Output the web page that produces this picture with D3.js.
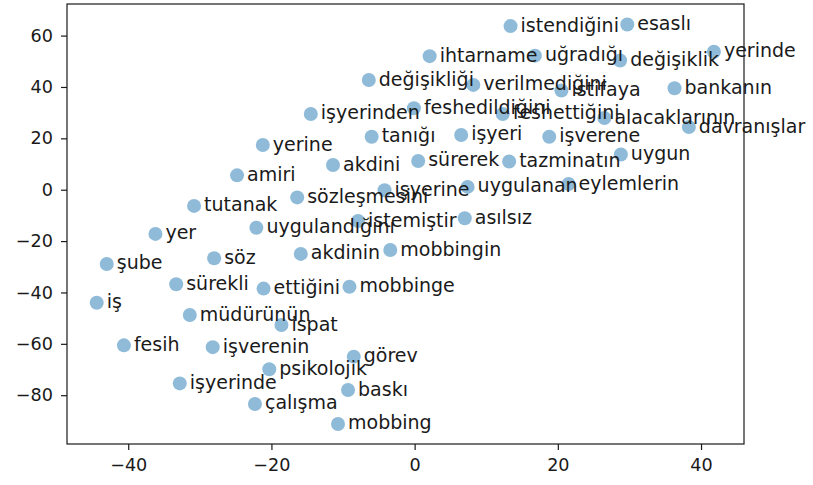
<!DOCTYPE html>
<html>
<head>
<meta charset="utf-8">
<script src="https://cdn.jsdelivr.net/npm/d3@7"></script>
<style>
  body { margin: 0; background: #fff; }
  text { font-family: "DejaVu Sans", sans-serif; }
</style>
</head>
<body>
<svg id="chart"></svg>
<script>
// kelimeler ve 2 boyutlu koordinatlar
var words = ["istendiğini","esaslı","ihtarname","uğradığı","değişiklik","yerinde",
  "değişikliği","verilmediğini","istifaya","bankanın","işyerinden","feshedildiğini",
  "feshettiğini","alacaklarının","davranışlar","tanığı","işyeri","işverene","yerine",
  "uygun","akdini","sürerek","tazminatın","amiri","işyerine","uygulanan","eylemlerin",
  "sözleşmesini","tutanak","istemiştir","asılsız","uygulandığını","yer","mobbingin",
  "söz","akdinin","şube","sürekli","ettiğini","mobbinge","iş","müdürünün","ispat",
  "fesih","işverenin","görev","psikolojik","işyerinde","baskı","çalışma","mobbing"];
var xs = [13.4,29.7,2.1,16.8,28.7,41.8,
  -6.4,8.2,20.5,36.3,-14.5,-0.1,
  12.3,26.5,38.3,-6.0,6.5,18.8,-21.2,
  28.8,-11.4,0.5,13.2,-24.8,-4.2,7.4,21.5,
  -16.4,-30.8,-7.9,7.0,-22.1,-36.2,-3.4,
  -28.0,-15.9,-43.0,-33.3,-21.1,-9.1,-44.4,-31.4,-18.6,
  -40.6,-28.2,-8.5,-20.3,-32.8,-9.3,-22.3,-10.7];
var ys = [63.7,64.3,52.0,52.2,50.3,53.7,
  42.7,40.8,38.6,39.5,29.5,31.7,
  29.5,27.9,24.4,20.6,21.3,20.6,17.4,
  13.7,9.6,11.2,11.0,5.6,-0.2,1.1,2.2,
  -3.0,-6.3,-12.2,-11.1,-14.8,-17.2,-23.5,
  -26.7,-25.0,-28.9,-36.8,-38.5,-37.8,-44.0,-48.8,-52.7,
  -60.6,-61.3,-65.0,-69.9,-75.4,-78.0,-83.4,-91.2];
var xTicks = [-40,-20,0,20,40];
var yTicks = [-80,-60,-40,-20,0,20,40,60];

var drawChart = function(){
    var width = 813, height = 485;
    var left = 67, right = 744, top = 4, bottom = 444;
    var svg = d3.select("#chart").attr("width", width).attr("height", height);

    var x = d3.scaleLinear().domain([-48.55, 46.0]).range([left, right]);
    var y = d3.scaleLinear().domain([-99.0, 72.3]).range([bottom, top]);

    var pts = d3.range(words.length).map(function(i){
        return {w: words[i], x: xs[i], y: ys[i]};
    });

    // 軸
    var xAxis = svg.append("g").attr("transform", "translate(0," + bottom + ")")
        .call(d3.axisBottom(x).tickValues(xTicks).tickSize(6).tickPadding(9).tickSizeOuter(0));
    var yAxis = svg.append("g").attr("transform", "translate(" + left + ",0)")
        .call(d3.axisLeft(y).tickValues(yTicks).tickSize(6).tickPadding(8).tickSizeOuter(0));
    [xAxis, yAxis].forEach(function(g){
        g.select(".domain").remove();
        g.selectAll("line").attr("stroke", "#1a1a1a").attr("stroke-width", 1.2);
        g.selectAll("text").attr("font-size", "17.6px").attr("fill", "#1a1a1a")
            .attr("font-family", "DejaVu Sans");
    });

    // 点
    svg.selectAll(".pt").data(pts).enter().append("circle")
        .attr("class", "pt")
        .attr("cx", function(d){ return x(d.x); })
        .attr("cy", function(d){ return y(d.y); })
        .attr("r", 7)
        .attr("fill", "#1f77b4")
        .attr("fill-opacity", 0.5);

    // ラベル
    svg.selectAll(".lbl").data(pts).enter().append("text")
        .attr("class", "lbl")
        .attr("x", function(d){ return x(d.x) + 10; })
        .attr("y", function(d){ return y(d.y) + 5.5; })
        .attr("font-size", "19px")
        .attr("fill", "#1a1a1a")
        .text(function(d){ return d.w; });

    // 枠
    svg.append("rect")
        .attr("x", left).attr("y", top)
        .attr("width", right - left).attr("height", bottom - top)
        .attr("fill", "none").attr("stroke", "#1a1a1a").attr("stroke-width", 1.2);
}

var main = function(){
    drawChart();
}();
</script>
</body>
</html>
